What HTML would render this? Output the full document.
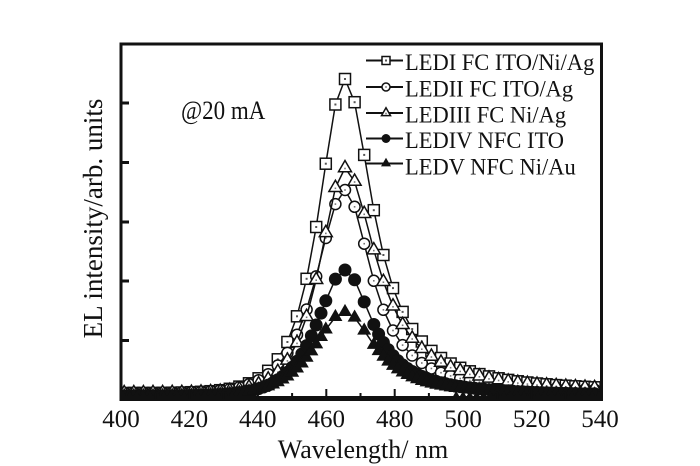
<!DOCTYPE html>
<html>
<head>
<meta charset="utf-8">
<style>
  html,body{margin:0;padding:0;background:#fff;}
  svg{display:block;}
  text{font-family:"Liberation Serif","Times New Roman",serif;fill:#111;}
</style>
</head>
<body>
<svg id="chart" width="700" height="466" viewBox="0 0 700 466" xmlns="http://www.w3.org/2000/svg">
  <rect x="0" y="0" width="700" height="466" fill="#fff"/>
  <defs>
    <clipPath id="plotclip"><rect x="121" y="44" width="480" height="356"/></clipPath>
  </defs>
  <g id="data" clip-path="url(#plotclip)"></g>

  <!-- frame -->
  <rect x="121" y="44" width="480.5" height="355.5" fill="none" stroke="#111" stroke-width="3"/>
  <rect x="121" y="396" width="480.5" height="4" fill="#111"/>

  <!-- y ticks -->
  <g stroke="#111" stroke-width="3">
    <line x1="121" y1="103" x2="129" y2="103"/>
    <line x1="121" y1="162.5" x2="129" y2="162.5"/>
    <line x1="121" y1="222" x2="129" y2="222"/>
    <line x1="121" y1="281" x2="129" y2="281"/>
    <line x1="121" y1="340.5" x2="129" y2="340.5"/>
  </g>
  <g id="xticks" stroke="#111" stroke-width="2"></g>

  <!-- x tick labels -->
  <g font-size="25" text-anchor="middle">
    <text x="121" y="427">400</text>
    <text x="189.4" y="427">420</text>
    <text x="257.8" y="427">440</text>
    <text x="326.3" y="427">460</text>
    <text x="394.7" y="427">480</text>
    <text x="463.1" y="427">500</text>
    <text x="531.6" y="427">520</text>
    <text x="600" y="427">540</text>
  </g>
  <text x="363" y="458" font-size="26" text-anchor="middle">Wavelength/ nm</text>
  <text transform="translate(102,218.5) rotate(-90)" font-size="27" text-anchor="middle">EL intensity/arb. units</text>

  <text transform="translate(181,119) scale(1,1.15)" font-size="23">@20 mA</text>

  <!-- legend -->
  <g id="legend"></g>
  <g font-size="22.5">
    <text transform="translate(405,70) scale(1,1.05)">LEDI FC ITO/Ni/Ag</text>
    <text transform="translate(405,96.5) scale(1,1.05)">LEDII FC ITO/Ag</text>
    <text transform="translate(405,122.5) scale(1,1.05)">LEDIII FC Ni/Ag</text>
    <text transform="translate(405,148) scale(1,1.05)">LEDIV NFC ITO</text>
    <text transform="translate(405,174.5) scale(1,1.05)">LEDV NFC Ni/Au</text>
  </g>
</svg>

<script>
(function(){
  function sech(x){return 2/(Math.exp(x)+Math.exp(-x));}
  function sq(x,y,s){return '<rect x="'+(x-s/2)+'" y="'+(y-s/2)+'" width="'+s+'" height="'+s+'" fill="#fff" stroke="#111" stroke-width="1.5"/><rect x="'+(x-1)+'" y="'+(y-1)+'" width="2" height="2" fill="#555"/>';}
  function oc(x,y,r){return '<circle cx="'+x+'" cy="'+y+'" r="'+r+'" fill="#fff" stroke="#111" stroke-width="1.5"/><rect x="'+(x-0.8)+'" y="'+(y-0.8)+'" width="1.6" height="1.6" fill="#777"/>';}
  function ot(x,y,s){var h=s*0.866;return '<polygon points="'+x+','+(y-2*h/3)+' '+(x-s/2)+','+(y+h/3)+' '+(x+s/2)+','+(y+h/3)+'" fill="#fff" stroke="#111" stroke-width="1.5" stroke-linejoin="miter"/><rect x="'+(x-0.8)+'" y="'+(y-0.3)+'" width="1.6" height="1.6" fill="#777"/>';}
  function fc(x,y,r){return '<circle cx="'+x+'" cy="'+y+'" r="'+r+'" fill="#111"/>';}
  function ft(x,y,s){var h=s*0.866;return '<polygon points="'+x+','+(y-2*h/3)+' '+(x-s/2)+','+(y+h/3)+' '+(x+s/2)+','+(y+h/3)+'" fill="#111"/>';}

  var series=[
    {y0:393,peak:79, lw:23,  rg:34, m:'sq'},
    {y0:393,peak:190,lw:25,  rg:32, m:'oc'},
    {y0:393,peak:168,lw:22,  rg:38, m:'ot'},
    {y0:396,peak:270,lw:24.5,rg:33, m:'fc'},
    {y0:396,peak:312,lw:27,  rg:36, m:'ft'}
  ];
  var xc=345, step=9.6;
  var out='';
  function val(s,x){
    var dx=x-xc,f;
    if(dx<=0) f=sech(-dx/s.lw); else f=1/(1+(dx/s.rg)*(dx/s.rg));
    return s.y0-(s.y0-s.peak)*f;
  }
  series.forEach(function(s){
    var pts=[];
    var filled=(s.m==='fc'||s.m==='ft');
    for(var k=-23;k<=26;k++){
      var x=xc+step*k;
      pts.push([x,val(s,x)]);
      if(filled && Math.abs(x-xc)>25 && k<26){
        var xm=x+step/2;
        pts.push([xm,val(s,xm)]);
      }
    }
    out+='<polyline fill="none" stroke="#111" stroke-width="1.5" points="'+pts.map(function(p){return p[0].toFixed(1)+','+p[1].toFixed(1);}).join(' ')+'"/>';
    pts.forEach(function(p){
      var x=+p[0].toFixed(1), y=+p[1].toFixed(1);
      if(s.m==='sq') out+=sq(x,y,11);
      else if(s.m==='oc') out+=oc(x,y,5.5);
      else if(s.m==='ot') out+=ot(x,y,13);
      else if(s.m==='fc') out+=fc(x,y,6.5);
      else out+=ft(x,y,14);
    });
  });
  for(var x=123;x<600;x+=6.8){
    var dx=x-xc;
    if(Math.abs(dx)<110) continue;
    out+=ft(+x.toFixed(1),396,9);
  }
  document.getElementById('data').innerHTML=out;

  var t='';
  for(var nm=410;nm<540;nm+=10){
    var x=121+(nm-400)*3.4214;
    var len=(nm%20===0)?10:6;
    t+='<line x1="'+x.toFixed(1)+'" y1="399" x2="'+x.toFixed(1)+'" y2="'+(399-len)+'"/>';
  }
  document.getElementById('xticks').innerHTML=t;

  var L='', rows=[60.5,87,113,138.5,163.5], ms=['sq','oc','ot','fc','ft'];
  rows.forEach(function(y,i){
    L+='<line x1="366" y1="'+y+'" x2="403" y2="'+y+'" stroke="#111" stroke-width="2"/>';
    var m=ms[i], x=386;
    if(m==='sq') L+=sq(x,y,8);
    else if(m==='oc') L+=oc(x,y,4);
    else if(m==='ot') L+=ot(x,y,9);
    else if(m==='fc') L+=fc(x,y,4.5);
    else L+=ft(x,y,10);
  });
  document.getElementById('legend').innerHTML=L;
})();
</script>
</body>
</html>
